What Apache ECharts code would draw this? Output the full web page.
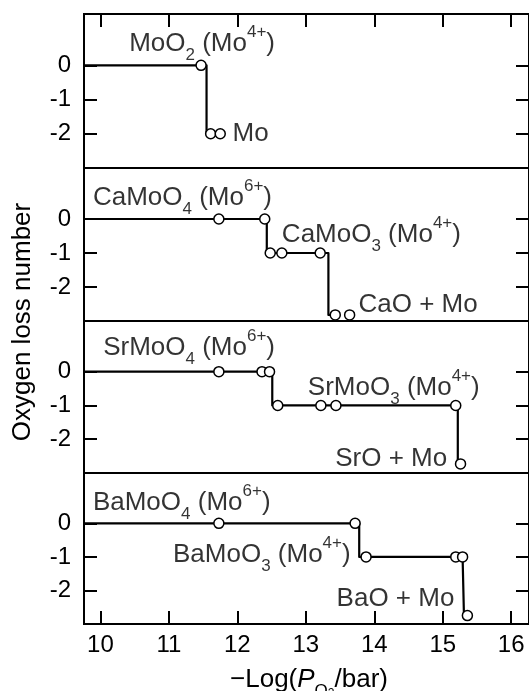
<!DOCTYPE html>
<html>
<head>
<meta charset="utf-8">
<style>
  html, body { margin: 0; padding: 0; background: #fff; }
  #chart { width: 529px; height: 691px; }
</style>
<script src="https://cdn.jsdelivr.net/npm/echarts@6/dist/echarts.min.js"></script>
</head>
<body>
<div id="chart"></div>
<script>
// Axis ticks
const xTickValues = [10, 11, 12, 13, 14, 15, 16];
const yTickValues = [0, -1, -2];
const xRange = [9.76, 16.26];
const yRange = [-3, 1.5];

// MoO2 panel
const moO2Points = [[11.47, 0], [11.61, -2], [11.75, -2]];
const moO2Path = [[9.76, 0], [11.47, 0], [11.55, 0], [11.55, -2], [11.61, -2]];
const moO2Labels = [[10.42, 0.62, 'MoO{sub|2} (Mo{sup|4+})'], [11.93, -2.01, 'Mo']];

// CaMoO4 panel
const caPoints = [[11.73, 0], [12.40, 0], [12.48, -1], [12.65, -1], [13.21, -1], [13.43, -2.82], [13.64, -2.82]];
const caPath = [[9.76, 0], [12.40, 0], [12.43, 0], [12.43, -1], [13.21, -1], [13.33, -1], [13.33, -2.82], [13.43, -2.82]];
const caLabels = [[9.89, 0.62, 'CaMoO{sub|4} (Mo{sup|6+})'], [12.65, -0.47, 'CaMoO{sub|3} (Mo{sup|4+})'], [13.77, -2.53, 'CaO + Mo']];

// SrMoO4 panel
const srPoints = [[11.73, 0], [12.36, 0], [12.47, 0], [12.59, -1], [13.22, -1], [13.44, -1], [15.19, -1], [15.26, -2.73]];
const srPath = [[9.76, 0], [12.47, 0], [12.51, 0], [12.51, -1], [15.19, -1], [15.22, -1], [15.22, -2.73], [15.26, -2.73]];
const srLabels = [[10.04, 0.70, 'SrMoO{sub|4} (Mo{sup|6+})'], [13.03, -0.49, 'SrMoO{sub|3} (Mo{sup|4+})'], [13.43, -2.57, 'SrO + Mo']];

// BaMoO4 panel
const baPoints = [[11.73, 0], [13.72, 0], [13.88, -1], [15.19, -1], [15.29, -1], [15.36, -2.75]];
const baPath = [[9.76, 0], [13.72, 0], [13.78, 0], [13.78, -1], [15.29, -1], [15.31, -1], [15.31, -2.75], [15.36, -2.75]];
const baLabels = [[9.89, 0.62, 'BaMoO{sub|4} (Mo{sup|6+})'], [11.06, -0.94, 'BaMoO{sub|3} (Mo{sup|4+})'], [13.45, -2.24, 'BaO + Mo']];

const panels = [
  { points: moO2Points, path: moO2Path, labels: moO2Labels },
  { points: caPoints, path: caPath, labels: caLabels },
  { points: srPoints, path: srPath, labels: srLabels },
  { points: baPoints, path: baPath, labels: baLabels }
];

const INK = '#000';
const FONT = '"Liberation Sans", Arial, Helvetica, sans-serif';
const gridTops = [14, 168, 321, 473];
const gridHeights = [154, 153, 152, 151];

const grids = [], xAxes = [], yAxes = [], series = [];

panels.forEach((p, i) => {
  grids.push({
    left: 84, width: 446, top: gridTops[i], height: gridHeights[i],
    show: true, borderColor: INK, borderWidth: 2, backgroundColor: 'transparent'
  });
  const isTop = i === 0, isBottom = i === panels.length - 1;
  xAxes.push({
    type: 'value', gridIndex: i, min: xRange[0], max: xRange[1],
    position: isTop ? 'top' : 'bottom',
    show: isTop || isBottom,
    splitLine: { show: false },
    axisLine: { show: false, onZero: false },
    axisTick: { show: true, inside: true, length: 13, customValues: xTickValues, lineStyle: { color: INK, width: 2 } },
    axisLabel: {
      show: isBottom, customValues: xTickValues, margin: 9,
      color: INK, fontSize: 24, fontFamily: FONT
    }
  });
  // left axis with labels
  yAxes.push({
    type: 'value', gridIndex: i, min: yRange[0], max: yRange[1], position: 'left',
    splitLine: { show: false },
    axisLine: { show: false, onZero: false },
    axisTick: { show: true, inside: true, length: 13, customValues: yTickValues, lineStyle: { color: INK, width: 2 } },
    axisLabel: { customValues: yTickValues, margin: 13, color: INK, fontSize: 24, fontFamily: FONT }
  });
  // right axis, ticks only
  yAxes.push({
    type: 'value', gridIndex: i, min: yRange[0], max: yRange[1], position: 'right',
    splitLine: { show: false },
    axisLine: { show: false, onZero: false },
    axisTick: { show: true, inside: true, length: 13, customValues: yTickValues, lineStyle: { color: INK, width: 2 } },
    axisLabel: { show: false, customValues: yTickValues }
  });

  series.push({
    type: 'line', xAxisIndex: i, yAxisIndex: i * 2,
    data: p.path, showSymbol: false, symbol: 'none', silent: true,
    lineStyle: { color: INK, width: 2.2, join: 'round' }, z: 2
  });
  series.push({
    type: 'scatter', xAxisIndex: i, yAxisIndex: i * 2,
    data: p.points, symbol: 'circle', symbolSize: 10, silent: true,
    itemStyle: { color: '#fff', borderColor: INK, borderWidth: 1.5, opacity: 1 }, z: 3
  });
  series.push({
    type: 'scatter', xAxisIndex: i, yAxisIndex: i * 2,
    data: p.labels.map(l => ({ value: [l[0], l[1]], name: l[2] })),
    symbolSize: 0, silent: true, clip: false, z: 4,
    label: {
      show: true, position: 'right', distance: 0,
      formatter: d => d.name,
      color: INK, fontSize: 26, fontFamily: FONT, lineHeight: 40,
      rich: {
        sub: { fontSize: 17, lineHeight: 19, verticalAlign: 'bottom', color: INK, fontFamily: FONT },
        sup: { fontSize: 17, lineHeight: 11, verticalAlign: 'top', color: INK, fontFamily: FONT }
      }
    }
  });
});

const chart = echarts.init(document.getElementById('chart'), null, { renderer: 'canvas' });
chart.setOption({
  animation: false,
  backgroundColor: '#fff',
  grid: grids,
  xAxis: xAxes,
  yAxis: yAxes,
  series: series,
  graphic: [
    {
      type: 'text', x: 23, y: 322, rotation: Math.PI / 2,
      style: {
        text: 'Oxygen loss number', fill: INK, fontSize: 26, fontFamily: FONT,
        align: 'center', verticalAlign: 'middle'
      }
    },
    {
      type: 'text', x: 309, y: 680,
      style: {
        text: '\u2212Log({i|P}{sub|O}{sub2|2}/bar)', fill: INK, fontSize: 26, fontFamily: FONT,
        align: 'center', verticalAlign: 'middle', lineHeight: 40,
        rich: {
          i: { fontStyle: 'italic', fontSize: 26, fill: INK, fontFamily: FONT },
          sub: { fontSize: 17, lineHeight: 19, verticalAlign: 'bottom', fill: INK, fontFamily: FONT },
          sub2: { fontSize: 12, lineHeight: 7, verticalAlign: 'bottom', fill: INK, fontFamily: FONT }
        }
      }
    }
  ]
});
</script>
</body>
</html>
